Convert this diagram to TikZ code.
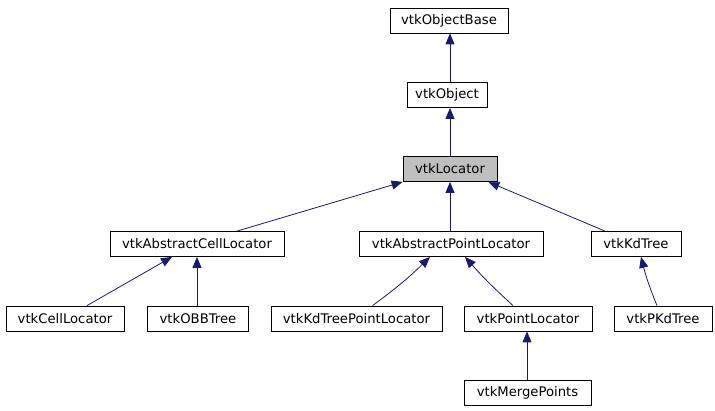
\documentclass[tikz,border=0pt]{standalone}
\usepackage{fontspec}
\setsansfont{DejaVu Sans}
\usetikzlibrary{arrows.meta}
\definecolor{edgeblue}{RGB}{25,25,112}
\definecolor{boxgray}{RGB}{191,191,191}
\tikzset{
  cls/.style={draw, line width=0.8pt, minimum height=25pt, inner sep=0pt,
    font=\sffamily\fontsize{13.2}{15}\selectfont},
  inh/.style={draw=edgeblue, line width=0.8pt, -{Triangle[width=9pt,length=11pt]}}
}
\begin{document}
\begin{tikzpicture}[x=1pt,y=-1pt]
\useasboundingbox (0,0) rectangle (715,411);
% classes
\node[cls, minimum width=118pt] (objbase) at (449,20.5) {vtkObjectBase};
\node[cls, minimum width=80pt] (object) at (447,95) {vtkObject};
\node[cls, minimum width=94pt, fill=boxgray] (locator) at (450,169) {vtkLocator};
\node[cls, minimum width=174pt] (abscell) at (197,244) {vtkAbstractCellLocator};
\node[cls, minimum width=184pt] (abspoint) at (451,244) {vtkAbstractPointLocator};
\node[cls, minimum width=90pt] (kdtree) at (636,244) {vtkKdTree};
\node[cls, minimum width=118pt] (cellloc) at (65,318.5) {vtkCellLocator};
\node[cls, minimum width=101pt] (obbtree) at (198,318.5) {vtkOBBTree};
\node[cls, minimum width=171pt] (kdpoint) at (356.5,318.5) {vtkKdTreePointLocator};
\node[cls, minimum width=128pt] (pointloc) at (528,318.5) {vtkPointLocator};
\node[cls, minimum width=98pt] (pkdtree) at (663,318.5) {vtkPKdTree};
\node[cls, minimum width=127pt] (merge) at (527.5,392.5) {vtkMergePoints};
% inheritance
\draw[inh] (object.north -| 450,0) -- (objbase.south -| 450,0);
\draw[inh] (locator) -- (object.south -| 450,0);
\draw[inh] (abspoint.north -| 450,0) -- (locator.south -| 450,0);
\draw[inh] ([xshift=40pt]abscell.north) -- (locator.south west);
\draw[inh] ([xshift=-31pt]kdtree.north) -- ([xshift=-9pt]locator.south east);
\draw[inh] ([xshift=22pt]cellloc.north) -- ([xshift=-25pt]abscell.south);
\draw[inh] (obbtree.north -| abscell) -- (abscell.south);
\draw[inh] ([xshift=16pt]kdpoint.north) to[bend right=4] ([xshift=-21pt]abspoint.south);
\draw[inh] ([xshift=-15pt]pointloc.north) to[bend left=3] ([xshift=14pt]abspoint.south);
\draw[inh] ([xshift=-6pt]pkdtree.north) to[bend left=4] ([xshift=5pt]kdtree.south);
\draw[inh] (merge.north -| 527,0) -- (pointloc.south -| 527,0);
\end{tikzpicture}
\end{document}
